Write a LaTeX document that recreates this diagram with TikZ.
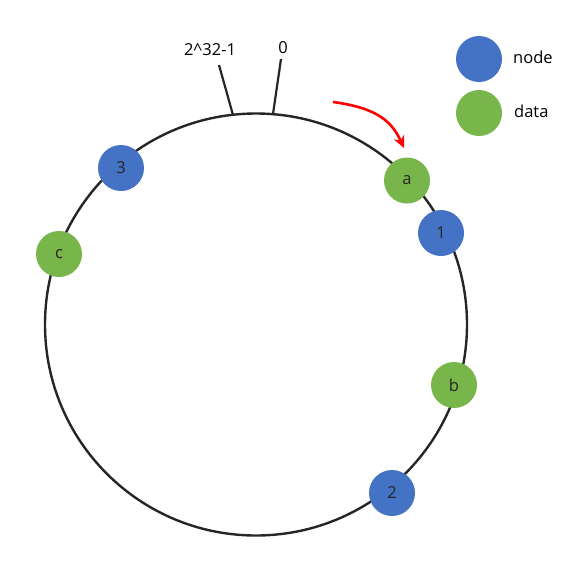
\documentclass[tikz,border=0pt]{standalone}
\usepackage{fontspec}
\setmainfont{Open Sans}
\usetikzlibrary{arrows.meta}
\definecolor{nodeblue}{HTML}{4472C4}
\definecolor{datagreen}{HTML}{78B54A}
\definecolor{ringgray}{HTML}{262626}
\tikzset{
  ring/.style={draw=ringgray, line width=2.4pt},
  tick/.style={draw=ringgray, line width=2.2pt},
  blob/.style={circle, minimum size=46pt, inner sep=0pt, font=\fontsize{16.5}{19}\selectfont, text=black!85},
  nodeblob/.style={blob, fill=nodeblue},
  datablob/.style={blob, fill=datagreen},
  lbl/.style={font=\fontsize{16.5}{19}\selectfont, text=black, inner sep=0pt},
}
\begin{document}
\begin{tikzpicture}[x=1pt, y=-1pt]
\useasboundingbox (0,0) rectangle (572,563);
\node[circle, minimum size=422pt, inner sep=0pt, ring] (ring) at (256,324.5) {};
% ticks
\coordinate (t1a) at (219,65);
\coordinate (t1b) at (233,115);
\coordinate (t0a) at (281,59);
\coordinate (t0b) at (273,114);
\draw[tick] (t1a) -- (t1b);
\draw[tick] (t0a) -- (t0b);
\node[lbl] (lmax) at (210,50) {2\string^32-1};
\node[lbl] (lzero) at (283,48) {0};
% nodes on ring
\node[datablob] (a) at (407,180.5) {a};
\node[nodeblob] (n1) at (441,233) {1};
\node[datablob] (b) at (454,385) {b};
\node[nodeblob] (n2) at (392,493) {2};
\node[nodeblob] (n3) at (121,168) {3};
\node[datablob] (c) at (59,254) {c};
% red arrow
\coordinate (rs) at (333,102);
\coordinate (re) at (404,148);
\draw[red, line width=2.6pt, -{Stealth[length=12pt,width=11pt]}] (rs) .. controls (378,108) and (392,122) .. (re);
% legend
\node[nodeblob] (lgn) at (479,59) {};
\node[datablob] (lgd) at (479,113) {};
\node[lbl, anchor=west] (lgnt) at (513,57) {node};
\node[lbl, anchor=west] (lgdt) at (514,111) {data};
\end{tikzpicture}
\end{document}
